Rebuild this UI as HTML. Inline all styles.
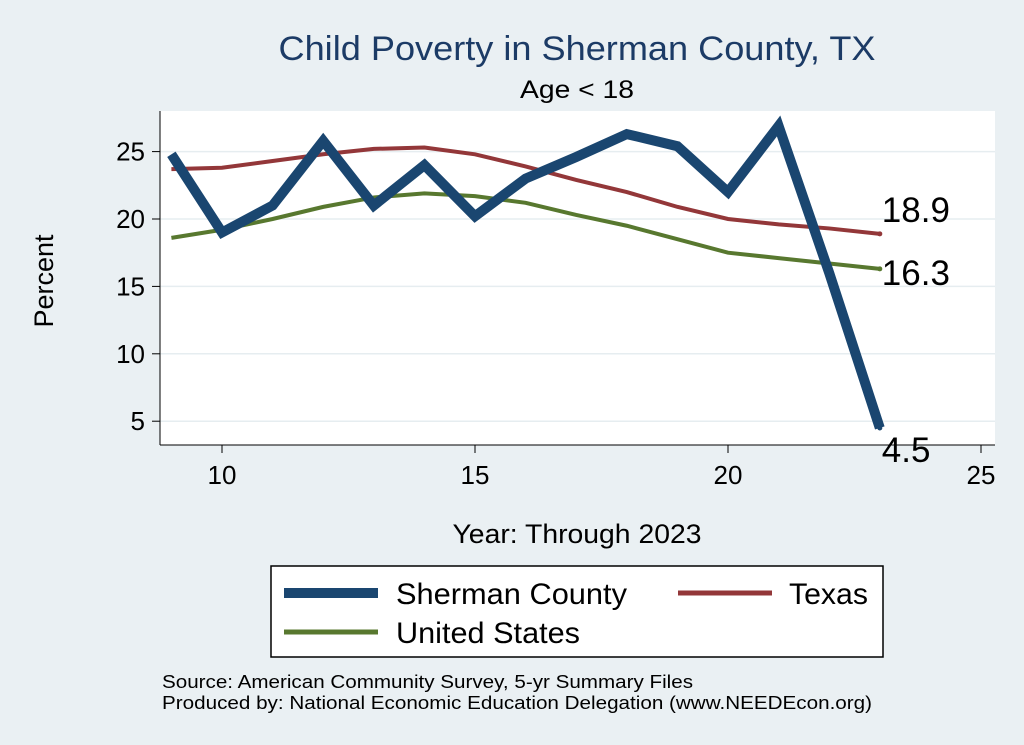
<!DOCTYPE html>
<html><head><meta charset="utf-8"><style>
body{margin:0;background:#eaf0f3;}
svg{display:block;font-family:"Liberation Sans",Arial,sans-serif;}
</style></head><body>
<svg id="c" width="1024" height="745">
<rect width="1024" height="745" fill="#eaf0f3"/>
<text x="577" y="60" font-size="34" fill="#1c3b66" text-anchor="middle" textLength="597" lengthAdjust="spacingAndGlyphs">Child Poverty in Sherman County, TX</text>
<text x="577" y="98" font-size="25" fill="#000" text-anchor="middle" textLength="114" lengthAdjust="spacingAndGlyphs">Age &lt; 18</text>
<rect x="160" y="111" width="835" height="334" fill="#fff"/>
<g id="grid"></g><g id="axes"></g><g id="series"></g>
<text x="53" y="281" font-size="27" text-anchor="middle" transform="rotate(-90 53 281)">Percent</text>
<text x="577" y="543" font-size="27" text-anchor="middle" textLength="249" lengthAdjust="spacingAndGlyphs">Year: Through 2023</text>
<g>
<rect x="271" y="566" width="612" height="91" fill="#fff" stroke="#000" stroke-width="1.5"/>
<line x1="284" y1="593" x2="378" y2="593" stroke="#1a4670" stroke-width="10"/>
<text x="396" y="604" font-size="30" textLength="231" lengthAdjust="spacingAndGlyphs">Sherman County</text>
<line x1="678" y1="593" x2="772" y2="593" stroke="#933739" stroke-width="5"/>
<text x="789" y="604" font-size="30" textLength="79" lengthAdjust="spacingAndGlyphs">Texas</text>
<line x1="284" y1="632" x2="378" y2="632" stroke="#58782f" stroke-width="5"/>
<text x="396" y="643" font-size="30" textLength="184" lengthAdjust="spacingAndGlyphs">United States</text>
</g>
<text x="162" y="688" font-size="18" textLength="531" lengthAdjust="spacingAndGlyphs">Source: American Community Survey, 5-yr Summary Files</text>
<text x="162" y="709" font-size="18" textLength="710" lengthAdjust="spacingAndGlyphs">Produced by: National Economic Education Delegation (www.NEEDEcon.org)</text>
</svg>
<script>
const years=[9,10,11,12,13,14,15,16,17,18,19,20,21,22,23];
const sherman=[24.8,19.0,21.0,25.8,21.0,24.0,20.2,23.0,24.6,26.3,25.4,22.0,26.9,16.0,4.5];
const texas=[23.7,23.8,24.3,24.8,25.2,25.3,24.8,23.9,22.9,22.0,20.9,20.0,19.6,19.3,18.9];
const us=[18.6,19.2,20.0,20.9,21.6,21.9,21.7,21.2,20.3,19.5,18.5,17.5,17.1,16.7,16.3];
const yTicks=[5,10,15,20,25];
const xTicks=[10,15,20,25];
const NS="http://www.w3.org/2000/svg";
const X=v=>222+(v-10)*50.6;
const Y=v=>219-(v-20)*13.48;
function mk(t,a,p){const e=document.createElementNS(NS,t);for(const k in a)e.setAttribute(k,a[k]);p.appendChild(e);return e;}
const grid=document.getElementById('grid'),axes=document.getElementById('axes'),ser=document.getElementById('series');
yTicks.forEach(v=>{
 const g=mk('line',{x1:160,x2:995,y1:Y(v),y2:Y(v),stroke:'#e6edf0','stroke-width':1.5},grid);
 
 
 mk('line',{x1:152,x2:160,y1:Y(v),y2:Y(v),stroke:'#000'},axes);
 const t=mk('text',{x:145,y:Y(v)+9,'font-size':26,'text-anchor':'end'},axes);t.textContent=v;
 
 
});
mk('line',{x1:160,x2:160,y1:111,y2:445,stroke:'#000'},axes);
mk('line',{x1:160,x2:995,y1:445,y2:445,stroke:'#000'},axes);
xTicks.forEach(v=>{
 mk('line',{x1:X(v),x2:X(v),y1:445,y2:453,stroke:'#000'},axes);
 const t=mk('text',{x:X(v),y:484,'font-size':26,'text-anchor':'middle'},axes);t.textContent=v;
 
 
});
function line(vals,col,w,name){
 const p=mk('polyline',{points:years.map((y,i)=>X(y)+','+Y(vals[i])).join(' '),fill:'none',stroke:col,'stroke-width':w,'stroke-linejoin':'miter'},ser);
 
 
}
line(us,'#58782f',4,'line-united-states');
line(texas,'#933739',4,'line-texas');
line(sherman,'#1a4670',10,'line-sherman-county');
const n=years.length-1;
[[texas,'#933739',-12,'label-texas'],[us,'#58782f',16,'label-us'],[sherman,'#1a4670',34,'label-sherman']].forEach(([v,c,dy,nm])=>{
 mk('circle',{cx:X(years[n]),cy:Y(v[n]),r:2.5,fill:c},ser);
 const t=mk('text',{x:X(years[n])+2,y:Y(v[n])+dy,'font-size':35},ser);t.textContent=v[n].toFixed(1);
 
 
});
</script>
</body></html>
